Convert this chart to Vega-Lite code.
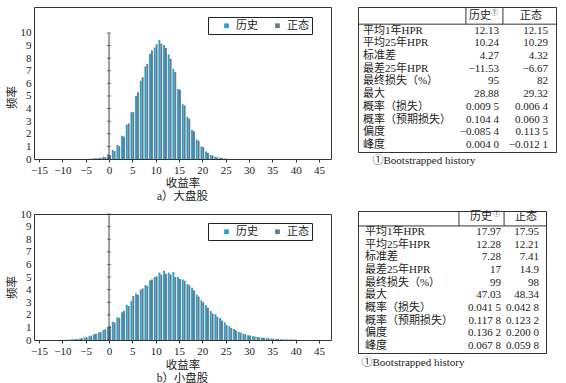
{
  "$schema": "https://vega.github.io/schema/vega-lite/v6.json",
  "background": "white",
  "padding": {"left": 5, "top": 6, "right": 0, "bottom": 0},
  "config": {
    "view": {"stroke": "#333", "strokeWidth": 1},
    "axis": {"labelFont": "Liberation Serif, Noto Sans CJK SC", "titleFont": "Liberation Serif, Noto Sans CJK SC", "labelFontSize": 11, "titleFontSize": 11.5, "titleFontWeight": "normal", "labelColor": "#222", "titleColor": "#222", "grid": false, "domain": false, "tickColor": "#333", "labelOverlap": false, "labelFlush": false},
    "title": {"font": "Liberation Serif, Noto Sans CJK SC", "fontSize": 11.5, "fontWeight": "normal", "color": "#222"},
    "legend": {"labelFont": "Liberation Serif, Noto Sans CJK SC", "labelFontSize": 11, "labelColor": "#222", "titleFont": "Liberation Serif, Noto Sans CJK SC"},
    "text": {"font": "Liberation Serif, Noto Sans CJK SC", "fontSize": 11, "color": "#222"}
  },
  "datasets": {
    "big": [
      {"x":-4,"s":"历史","f":0.02},{"x":-4,"s":"正态","f":0.03},
      {"x":-3,"s":"历史","f":0.04},{"x":-3,"s":"正态","f":0.05},
      {"x":-2,"s":"历史","f":0.08},{"x":-2,"s":"正态","f":0.09},
      {"x":-1,"s":"历史","f":0.18},{"x":-1,"s":"正态","f":0.14},
      {"x":0,"s":"历史","f":0.38},{"x":0,"s":"正态","f":0.32},
      {"x":1,"s":"历史","f":0.72},{"x":1,"s":"正态","f":0.62},
      {"x":2,"s":"历史","f":1.12},{"x":2,"s":"正态","f":1.02},
      {"x":3,"s":"历史","f":1.85},{"x":3,"s":"正态","f":1.78},
      {"x":4,"s":"历史","f":2.72},{"x":4,"s":"正态","f":2.82},
      {"x":5,"s":"历史","f":3.72},{"x":5,"s":"正态","f":3.72},
      {"x":6,"s":"历史","f":5.0},{"x":6,"s":"正态","f":5.3},
      {"x":7,"s":"历史","f":6.2},{"x":7,"s":"正态","f":6.5},
      {"x":8,"s":"历史","f":7.35},{"x":8,"s":"正态","f":7.55},
      {"x":9,"s":"历史","f":8.35},{"x":9,"s":"正态","f":8.6},
      {"x":10,"s":"历史","f":8.85},{"x":10,"s":"正态","f":9.1},
      {"x":11,"s":"历史","f":9.45},{"x":11,"s":"正态","f":9.15},
      {"x":12,"s":"历史","f":9.05},{"x":12,"s":"正态","f":8.8},
      {"x":13,"s":"历史","f":8.3},{"x":13,"s":"正态","f":7.95},
      {"x":14,"s":"历史","f":7.15},{"x":14,"s":"正态","f":6.9},
      {"x":15,"s":"历史","f":5.55},{"x":15,"s":"正态","f":5.5},
      {"x":16,"s":"历史","f":4.35},{"x":16,"s":"正态","f":4.25},
      {"x":17,"s":"历史","f":3.35},{"x":17,"s":"正态","f":3.2},
      {"x":18,"s":"历史","f":2.3},{"x":18,"s":"正态","f":2.2},
      {"x":19,"s":"历史","f":1.55},{"x":19,"s":"正态","f":1.45},
      {"x":20,"s":"历史","f":1.0},{"x":20,"s":"正态","f":0.95},
      {"x":21,"s":"历史","f":0.6},{"x":21,"s":"正态","f":0.5},
      {"x":22,"s":"历史","f":0.32},{"x":22,"s":"正态","f":0.28},
      {"x":23,"s":"历史","f":0.18},{"x":23,"s":"正态","f":0.14},
      {"x":24,"s":"历史","f":0.09},{"x":24,"s":"正态","f":0.07},
      {"x":25,"s":"历史","f":0.04},{"x":25,"s":"正态","f":0.03}
    ],
    "small": [
      {"x":-9,"s":"历史","f":0.02},{"x":-9,"s":"正态","f":0.02},
      {"x":-8,"s":"历史","f":0.04},{"x":-8,"s":"正态","f":0.05},
      {"x":-7,"s":"历史","f":0.07},{"x":-7,"s":"正态","f":0.08},
      {"x":-6,"s":"历史","f":0.12},{"x":-6,"s":"正态","f":0.13},
      {"x":-5,"s":"历史","f":0.2},{"x":-5,"s":"正态","f":0.22},
      {"x":-4,"s":"历史","f":0.3},{"x":-4,"s":"正态","f":0.35},
      {"x":-3,"s":"历史","f":0.45},{"x":-3,"s":"正态","f":0.5},
      {"x":-2,"s":"历史","f":0.6},{"x":-2,"s":"正态","f":0.65},
      {"x":-1,"s":"历史","f":0.8},{"x":-1,"s":"正态","f":0.85},
      {"x":0,"s":"历史","f":1.0},{"x":0,"s":"正态","f":1.1},
      {"x":1,"s":"历史","f":1.45},{"x":1,"s":"正态","f":1.4},
      {"x":2,"s":"历史","f":1.8},{"x":2,"s":"正态","f":1.75},
      {"x":3,"s":"历史","f":2.2},{"x":3,"s":"正态","f":2.3},
      {"x":4,"s":"历史","f":2.8},{"x":4,"s":"正态","f":2.7},
      {"x":5,"s":"历史","f":3.1},{"x":5,"s":"正态","f":3.5},
      {"x":6,"s":"历史","f":3.7},{"x":6,"s":"正态","f":3.6},
      {"x":7,"s":"历史","f":4.0},{"x":7,"s":"正态","f":4.1},
      {"x":8,"s":"历史","f":4.35},{"x":8,"s":"正态","f":4.3},
      {"x":9,"s":"历史","f":4.75},{"x":9,"s":"正态","f":4.8},
      {"x":10,"s":"历史","f":5.0},{"x":10,"s":"正态","f":5.05},
      {"x":11,"s":"历史","f":5.35},{"x":11,"s":"正态","f":5.2},
      {"x":12,"s":"历史","f":5.5},{"x":12,"s":"正态","f":5.25},
      {"x":13,"s":"历史","f":5.35},{"x":13,"s":"正态","f":5.2},
      {"x":14,"s":"历史","f":5.4},{"x":14,"s":"正态","f":5.0},
      {"x":15,"s":"历史","f":5.0},{"x":15,"s":"正态","f":4.85},
      {"x":16,"s":"历史","f":4.8},{"x":16,"s":"正态","f":4.7},
      {"x":17,"s":"历史","f":4.45},{"x":17,"s":"正态","f":4.35},
      {"x":18,"s":"历史","f":4.15},{"x":18,"s":"正态","f":3.95},
      {"x":19,"s":"历史","f":3.6},{"x":19,"s":"正态","f":3.45},
      {"x":20,"s":"历史","f":3.15},{"x":20,"s":"正态","f":3.0},
      {"x":21,"s":"历史","f":2.75},{"x":21,"s":"正态","f":2.55},
      {"x":22,"s":"历史","f":2.3},{"x":22,"s":"正态","f":2.1},
      {"x":23,"s":"历史","f":2.05},{"x":23,"s":"正态","f":1.85},
      {"x":24,"s":"历史","f":1.75},{"x":24,"s":"正态","f":1.55},
      {"x":25,"s":"历史","f":1.4},{"x":25,"s":"正态","f":1.2},
      {"x":26,"s":"历史","f":1.1},{"x":26,"s":"正态","f":0.95},
      {"x":27,"s":"历史","f":0.87},{"x":27,"s":"正态","f":0.75},
      {"x":28,"s":"历史","f":0.65},{"x":28,"s":"正态","f":0.58},
      {"x":29,"s":"历史","f":0.5},{"x":29,"s":"正态","f":0.45},
      {"x":30,"s":"历史","f":0.38},{"x":30,"s":"正态","f":0.35},
      {"x":31,"s":"历史","f":0.3},{"x":31,"s":"正态","f":0.28},
      {"x":32,"s":"历史","f":0.24},{"x":32,"s":"正态","f":0.22},
      {"x":33,"s":"历史","f":0.2},{"x":33,"s":"正态","f":0.17},
      {"x":34,"s":"历史","f":0.15},{"x":34,"s":"正态","f":0.13},
      {"x":35,"s":"历史","f":0.12},{"x":35,"s":"正态","f":0.1},
      {"x":36,"s":"历史","f":0.08},{"x":36,"s":"正态","f":0.07},
      {"x":37,"s":"历史","f":0.06},{"x":37,"s":"正态","f":0.05},
      {"x":38,"s":"历史","f":0.04},{"x":38,"s":"正态","f":0.04},
      {"x":39,"s":"历史","f":0.03},{"x":39,"s":"正态","f":0.03},
      {"x":40,"s":"历史","f":0.02},{"x":40,"s":"正态","f":0.02}
    ],
    "t1": [
      {"row":1,"label":"平均1年HPR","h":"12.13","n":"12.15"},
      {"row":2,"label":"平均25年HPR","h":"10.24","n":"10.29"},
      {"row":3,"label":"标准差","h":"4.27","n":"4.32"},
      {"row":4,"label":"最差25年HPR","h":"−11.53","n":"−6.67"},
      {"row":5,"label":"最终损失（%）","h":"95","n":"82"},
      {"row":6,"label":"最大","h":"28.88","n":"29.32"},
      {"row":7,"label":"概率（损失）","h":"0.009 5","n":"0.006 4"},
      {"row":8,"label":"概率（预期损失）","h":"0.104 4","n":"0.060 3"},
      {"row":9,"label":"偏度","h":"−0.085 4","n":"0.113 5"},
      {"row":10,"label":"峰度","h":"0.004 0","n":"−0.012 1"}
    ],
    "t2": [
      {"row":1,"label":"平均1年HPR","h":"17.97","n":"17.95"},
      {"row":2,"label":"平均25年HPR","h":"12.28","n":"12.21"},
      {"row":3,"label":"标准差","h":"7.28","n":"7.41"},
      {"row":4,"label":"最差25年HPR","h":"17","n":"14.9"},
      {"row":5,"label":"最终损失（%）","h":"99","n":"98"},
      {"row":6,"label":"最大","h":"47.03","n":"48.34"},
      {"row":7,"label":"概率（损失）","h":"0.041 5","n":"0.042 8"},
      {"row":8,"label":"概率（预期损失）","h":"0.117 8","n":"0.123 2"},
      {"row":9,"label":"偏度","h":"0.136 2","n":"0.200 0"},
      {"row":10,"label":"峰度","h":"0.067 8","n":"0.059 8"}
    ],
    "one": [{}],
    "ticks": [{"t":0},{"t":1},{"t":2},{"t":3},{"t":4},{"t":5},{"t":6},{"t":7},{"t":8},{"t":9},{"t":10}]
  },
  "spacing": 25,
  "resolve": {"scale": {"x": "independent", "y": "independent", "color": "independent"}, "legend": {"color": "independent"}},
  "hconcat": [
    {
      "spacing": 4,
      "resolve": {"scale": {"x": "independent", "y": "independent", "color": "independent"}, "legend": {"color": "independent"}},
      "vconcat": [
        {
          "width": 297, "height": 152,
          "title": {"text": "a）大盘股", "orient": "bottom", "offset": 2},
          "layer": [
            {
              "data": {"name": "big"},
              "transform": [{"filter": "datum.s == '历史'"}],
              "mark": {"type": "bar", "width": 1.9, "xOffset": -0.95},
              "encoding": {
                "x": {"field": "x", "type": "quantitative", "scale": {"domain": [-15, 46.5], "nice": false, "zero": false},
                      "axis": {"values": [-15,-10,-5,0,5,10,15,20,25,30,35,40,45], "tickCount": 30, "format": "d", "title": "收益率", "tickSize": 3, "labelPadding": 2, "titlePadding": 2, "labelFlush": false, "labelOverlap": false}},
                "y": {"field": "f", "type": "quantitative", "scale": {"domain": [0, 12.06], "nice": false},
                      "axis": {"values": [0,1,2,3,4,5,6,7,8,9,10], "tickCount": 30, "format": "d", "title": "频率", "ticks": false, "labelPadding": 3, "titleX": -17, "titleY": 90, "labelOverlap": false}},
                "color": {"field": "s", "type": "nominal", "scale": {"domain": ["历史", "正态"], "range": ["#2a9fc9", "#64798a"]},
                          "legend": {"orient": "none", "legendX": 174, "legendY": 10, "direction": "horizontal", "title": "\u00a0", "titleOrient": "left", "titlePadding": 10, "padding": 3, "strokeColor": "#222", "symbolType": "square", "symbolSize": 22, "symbolStrokeWidth": 0, "columnPadding": 14, "labelExpr": "datum.label == '正态' ? datum.label + '\u00a0\u00a0\u00a0' : datum.label"}}
              }
            },
            {
              "data": {"name": "big"},
              "transform": [{"filter": "datum.s == '正态'"}],
              "mark": {"type": "bar", "width": 1.9, "xOffset": 0.95},
              "encoding": {
                "x": {"field": "x", "type": "quantitative"},
                "y": {"field": "f", "type": "quantitative"},
                "color": {"field": "s", "type": "nominal"}
              }
            },
            {
              "data": {"name": "one"},
              "mark": {"type": "rule", "color": "#444", "strokeWidth": 1},
              "encoding": {"x": {"datum": 0}, "y": {"datum": 0}, "y2": {"datum": 10}}
            },
            {
              "data": {"name": "ticks"},
              "mark": {"type": "tick", "orient": "horizontal", "size": 4, "thickness": 1, "color": "#444"},
              "encoding": {"x": {"datum": 0}, "y": {"field": "t", "type": "quantitative"}}
            }
          ]
        },
        {
          "width": 297, "height": 126,
          "title": {"text": "b）小盘股", "orient": "bottom", "offset": 2},
          "layer": [
            {
              "data": {"name": "small"},
              "transform": [{"filter": "datum.s == '历史'"}],
              "mark": {"type": "bar", "width": 1.9, "xOffset": -0.95},
              "encoding": {
                "x": {"field": "x", "type": "quantitative", "scale": {"domain": [-15, 46.5], "nice": false, "zero": false},
                      "axis": {"values": [-15,-10,-5,0,5,10,15,20,25,30,35,40,45], "tickCount": 30, "format": "d", "title": "收益率", "tickSize": 3, "labelPadding": 2, "titlePadding": 3, "labelFlush": false, "labelOverlap": false}},
                "y": {"field": "f", "type": "quantitative", "scale": {"domain": [0, 10], "nice": false},
                      "axis": {"values": [0,1,2,3,4,5,6,7,8,9,10], "tickCount": 30, "format": "d", "title": "频率", "ticks": false, "labelPadding": 3, "titleX": -17, "titleY": 73, "labelOverlap": false}},
                "color": {"field": "s", "type": "nominal", "scale": {"domain": ["历史", "正态"], "range": ["#2a9fc9", "#64798a"]},
                          "legend": {"orient": "none", "legendX": 174, "legendY": 9, "direction": "horizontal", "title": "\u00a0", "titleOrient": "left", "titlePadding": 10, "padding": 3, "strokeColor": "#222", "symbolType": "square", "symbolSize": 22, "symbolStrokeWidth": 0, "columnPadding": 14, "labelExpr": "datum.label == '正态' ? datum.label + '\u00a0\u00a0\u00a0' : datum.label"}}
              }
            },
            {
              "data": {"name": "small"},
              "transform": [{"filter": "datum.s == '正态'"}],
              "mark": {"type": "bar", "width": 1.9, "xOffset": 0.95},
              "encoding": {
                "x": {"field": "x", "type": "quantitative"},
                "y": {"field": "f", "type": "quantitative"},
                "color": {"field": "s", "type": "nominal"}
              }
            },
            {
              "data": {"name": "one"},
              "mark": {"type": "rule", "color": "#444", "strokeWidth": 1},
              "encoding": {"x": {"datum": 0}, "y": {"datum": 0}, "y2": {"datum": 10}}
            },
            {
              "data": {"name": "ticks"},
              "mark": {"type": "tick", "orient": "horizontal", "size": 4, "thickness": 1, "color": "#444"},
              "encoding": {"x": {"datum": 0}, "y": {"field": "t", "type": "quantitative"}}
            }
          ]
        }
      ]
    },
    {
      "spacing": 42,
      "resolve": {"scale": {"x": "independent", "y": "independent"}},
      "vconcat": [
        {
          "width": 198, "height": 145,
          "title": {"text": "①Bootstrapped history", "orient": "bottom", "anchor": "start", "dx": 15, "offset": 3, "fontSize": 11},
          "layer": [
            {"data": {"name": "t1"}, "mark": {"type": "text", "align": "left", "baseline": "middle"},
             "encoding": {"x": {"datum": 2.5, "type": "quantitative", "scale": {"domain": [0, 100], "nice": false, "zero": false}, "axis": null},
                          "y": {"field": "row", "type": "quantitative", "scale": {"domain": [-0.85, 10.55], "reverse": true, "nice": false, "zero": false}, "axis": null},
                          "text": {"field": "label"}}},
            {"data": {"name": "t1"}, "mark": {"type": "text", "align": "right", "baseline": "middle"},
             "encoding": {"x": {"datum": 71.2, "type": "quantitative", "axis": null}, "y": {"field": "row", "type": "quantitative", "axis": null}, "text": {"field": "h"}}},
            {"data": {"name": "t1"}, "mark": {"type": "text", "align": "right", "baseline": "middle"},
             "encoding": {"x": {"datum": 96, "type": "quantitative", "axis": null}, "y": {"field": "row", "type": "quantitative", "axis": null}, "text": {"field": "n"}}},
            {"data": {"name": "one"}, "mark": {"type": "text", "align": "center", "baseline": "middle", "dy": -2},
             "encoding": {"x": {"datum": 61.6, "type": "quantitative", "axis": null}, "y": {"datum": 0, "type": "quantitative", "axis": null}, "text": {"value": "历史"}}},
            {"data": {"name": "one"}, "mark": {"type": "text", "align": "left", "baseline": "middle", "dy": -5, "fontSize": 7},
             "encoding": {"x": {"datum": 67.2, "type": "quantitative", "axis": null}, "y": {"datum": 0, "type": "quantitative", "axis": null}, "text": {"value": "①"}}},
            {"data": {"name": "one"}, "mark": {"type": "text", "align": "center", "baseline": "middle", "dy": -2},
             "encoding": {"x": {"datum": 87.4, "type": "quantitative", "axis": null}, "y": {"datum": 0, "type": "quantitative", "axis": null}, "text": {"value": "正态"}}},
            {"data": {"name": "one"}, "mark": {"type": "rule", "color": "#333"},
             "encoding": {"y": {"datum": 0.5, "type": "quantitative", "axis": null}}},
            {"data": {"name": "one"}, "mark": {"type": "rule", "color": "#333"},
             "encoding": {"x": {"datum": 54.5, "type": "quantitative", "axis": null}, "y": {"datum": -0.85, "type": "quantitative", "axis": null}, "y2": {"datum": 0.5}}},
            {"data": {"name": "one"}, "mark": {"type": "rule", "color": "#333"},
             "encoding": {"x": {"datum": 73.2, "type": "quantitative", "axis": null}, "y": {"datum": -0.85, "type": "quantitative", "axis": null}, "y2": {"datum": 0.5}}}
          ]
        },
        {
          "width": 188, "height": 142,
          "title": {"text": "①Bootstrapped history", "orient": "bottom", "anchor": "start", "dx": 4, "offset": 4, "fontSize": 11},
          "layer": [
            {"data": {"name": "t2"}, "mark": {"type": "text", "align": "left", "baseline": "middle"},
             "encoding": {"x": {"datum": 3.7, "type": "quantitative", "scale": {"domain": [0, 100], "nice": false, "zero": false}, "axis": null},
                          "y": {"field": "row", "type": "quantitative", "scale": {"domain": [-0.66, 10.55], "reverse": true, "nice": false, "zero": false}, "axis": null},
                          "text": {"field": "label"}}},
            {"data": {"name": "t2"}, "mark": {"type": "text", "align": "right", "baseline": "middle"},
             "encoding": {"x": {"datum": 76.1, "type": "quantitative", "axis": null}, "y": {"field": "row", "type": "quantitative", "axis": null}, "text": {"field": "h"}}},
            {"data": {"name": "t2"}, "mark": {"type": "text", "align": "right", "baseline": "middle"},
             "encoding": {"x": {"datum": 96.3, "type": "quantitative", "axis": null}, "y": {"field": "row", "type": "quantitative", "axis": null}, "text": {"field": "n"}}},
            {"data": {"name": "one"}, "mark": {"type": "text", "align": "center", "baseline": "middle", "dy": -2},
             "encoding": {"x": {"datum": 65.4, "type": "quantitative", "axis": null}, "y": {"datum": 0, "type": "quantitative", "axis": null}, "text": {"value": "历史"}}},
            {"data": {"name": "one"}, "mark": {"type": "text", "align": "left", "baseline": "middle", "dy": -5, "fontSize": 7},
             "encoding": {"x": {"datum": 71.8, "type": "quantitative", "axis": null}, "y": {"datum": 0, "type": "quantitative", "axis": null}, "text": {"value": "①"}}},
            {"data": {"name": "one"}, "mark": {"type": "text", "align": "center", "baseline": "middle", "dy": -2},
             "encoding": {"x": {"datum": 89.4, "type": "quantitative", "axis": null}, "y": {"datum": 0, "type": "quantitative", "axis": null}, "text": {"value": "正态"}}},
            {"data": {"name": "one"}, "mark": {"type": "rule", "color": "#333"},
             "encoding": {"y": {"datum": 0.52, "type": "quantitative", "axis": null}}},
            {"data": {"name": "one"}, "mark": {"type": "rule", "color": "#333"},
             "encoding": {"x": {"datum": 53.7, "type": "quantitative", "axis": null}, "y": {"datum": -0.66, "type": "quantitative", "axis": null}, "y2": {"datum": 0.52}}},
            {"data": {"name": "one"}, "mark": {"type": "rule", "color": "#333"},
             "encoding": {"x": {"datum": 77.7, "type": "quantitative", "axis": null}, "y": {"datum": -0.66, "type": "quantitative", "axis": null}, "y2": {"datum": 0.52}}}
          ]
        }
      ]
    }
  ]
}
